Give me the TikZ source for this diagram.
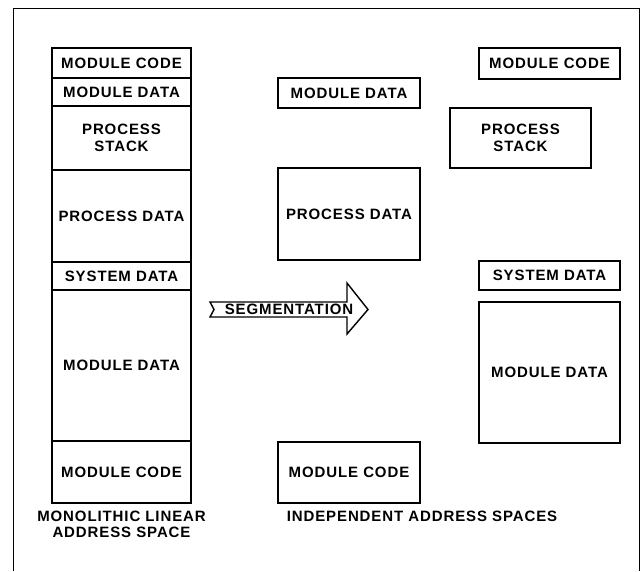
\documentclass[tikz,border=0pt]{standalone}
\usepackage{fontspec}
\setmainfont{Liberation Sans}[LetterSpace=6]
\begin{document}
\begin{tikzpicture}[x=1pt, y=-1pt,
    seg/.style={draw, line width=1.4pt, inner sep=0pt, align=center,
        font=\bfseries\fontsize{15}{17}\selectfont},
    caption/.style={inner sep=0pt, align=center,
        font=\bfseries\fontsize{15}{16}\selectfont}]
    \useasboundingbox (0,0) rectangle (644,571);
    % frame
    \draw[line width=1pt] (13,571) -- (13,8) -- (639,8) -- (639,571);

    % monolithic linear address space
    \node[seg, minimum width=139pt, minimum height=30pt] (mcA) at (121.5,63) {MODULE CODE};
    \node[seg, minimum width=139pt, minimum height=28pt] (mdA) at (121.5,92) {MODULE DATA};
    \node[seg, minimum width=139pt, minimum height=64pt] (psA) at (121.5,138) {PROCESS\\STACK};
    \node[seg, minimum width=139pt, minimum height=92pt] (pdA) at (121.5,216) {PROCESS DATA};
    \node[seg, minimum width=139pt, minimum height=28pt] (sdA) at (121.5,276) {SYSTEM DATA};
    \node[seg, minimum width=139pt, minimum height=151pt] (mdB) at (121.5,365.5) {MODULE DATA};
    \node[seg, minimum width=139pt, minimum height=62pt] (mcB) at (121.5,472) {MODULE CODE};
    \node[caption, anchor=north] (mono) at ([yshift=-7pt]mcB.south) {MONOLITHIC LINEAR\\ADDRESS SPACE};

    % independent address spaces, middle
    \node[seg, minimum width=142pt, minimum height=30pt] (mdC) at (349,93) {MODULE DATA};
    \node[seg, minimum width=142pt, minimum height=92pt] (pdC) at (349,214) {PROCESS DATA};
    \node[seg, minimum width=142pt, minimum height=61pt] (mcC) at (349,472.5) {MODULE CODE};
    \node[caption] (indep) at (422,516) {INDEPENDENT ADDRESS SPACES};

    % independent address spaces, right
    \node[seg, minimum width=141pt, minimum height=31pt] (mcD) at (549.5,63.5) {MODULE CODE};
    \node[seg, minimum width=141pt, minimum height=60pt] (psD) at (520.5,138) {PROCESS\\STACK};
    \node[seg, minimum width=141pt, minimum height=29pt] (sdD) at (549.5,275.5) {SYSTEM DATA};
    \node[seg, minimum width=141pt, minimum height=141pt] (mdD) at (549.5,372.5) {MODULE DATA};

    % big arrow
    \draw[line width=1.4pt, line join=miter] (210,302) -- (347,302) -- (347,283) -- (368,309.5)
        -- (347,334) -- (347,317) -- (210,317) -- (214,309.5) -- cycle;
    \node[caption] (segm) at (289,309.5) {SEGMENTATION};
\end{tikzpicture}
\end{document}
